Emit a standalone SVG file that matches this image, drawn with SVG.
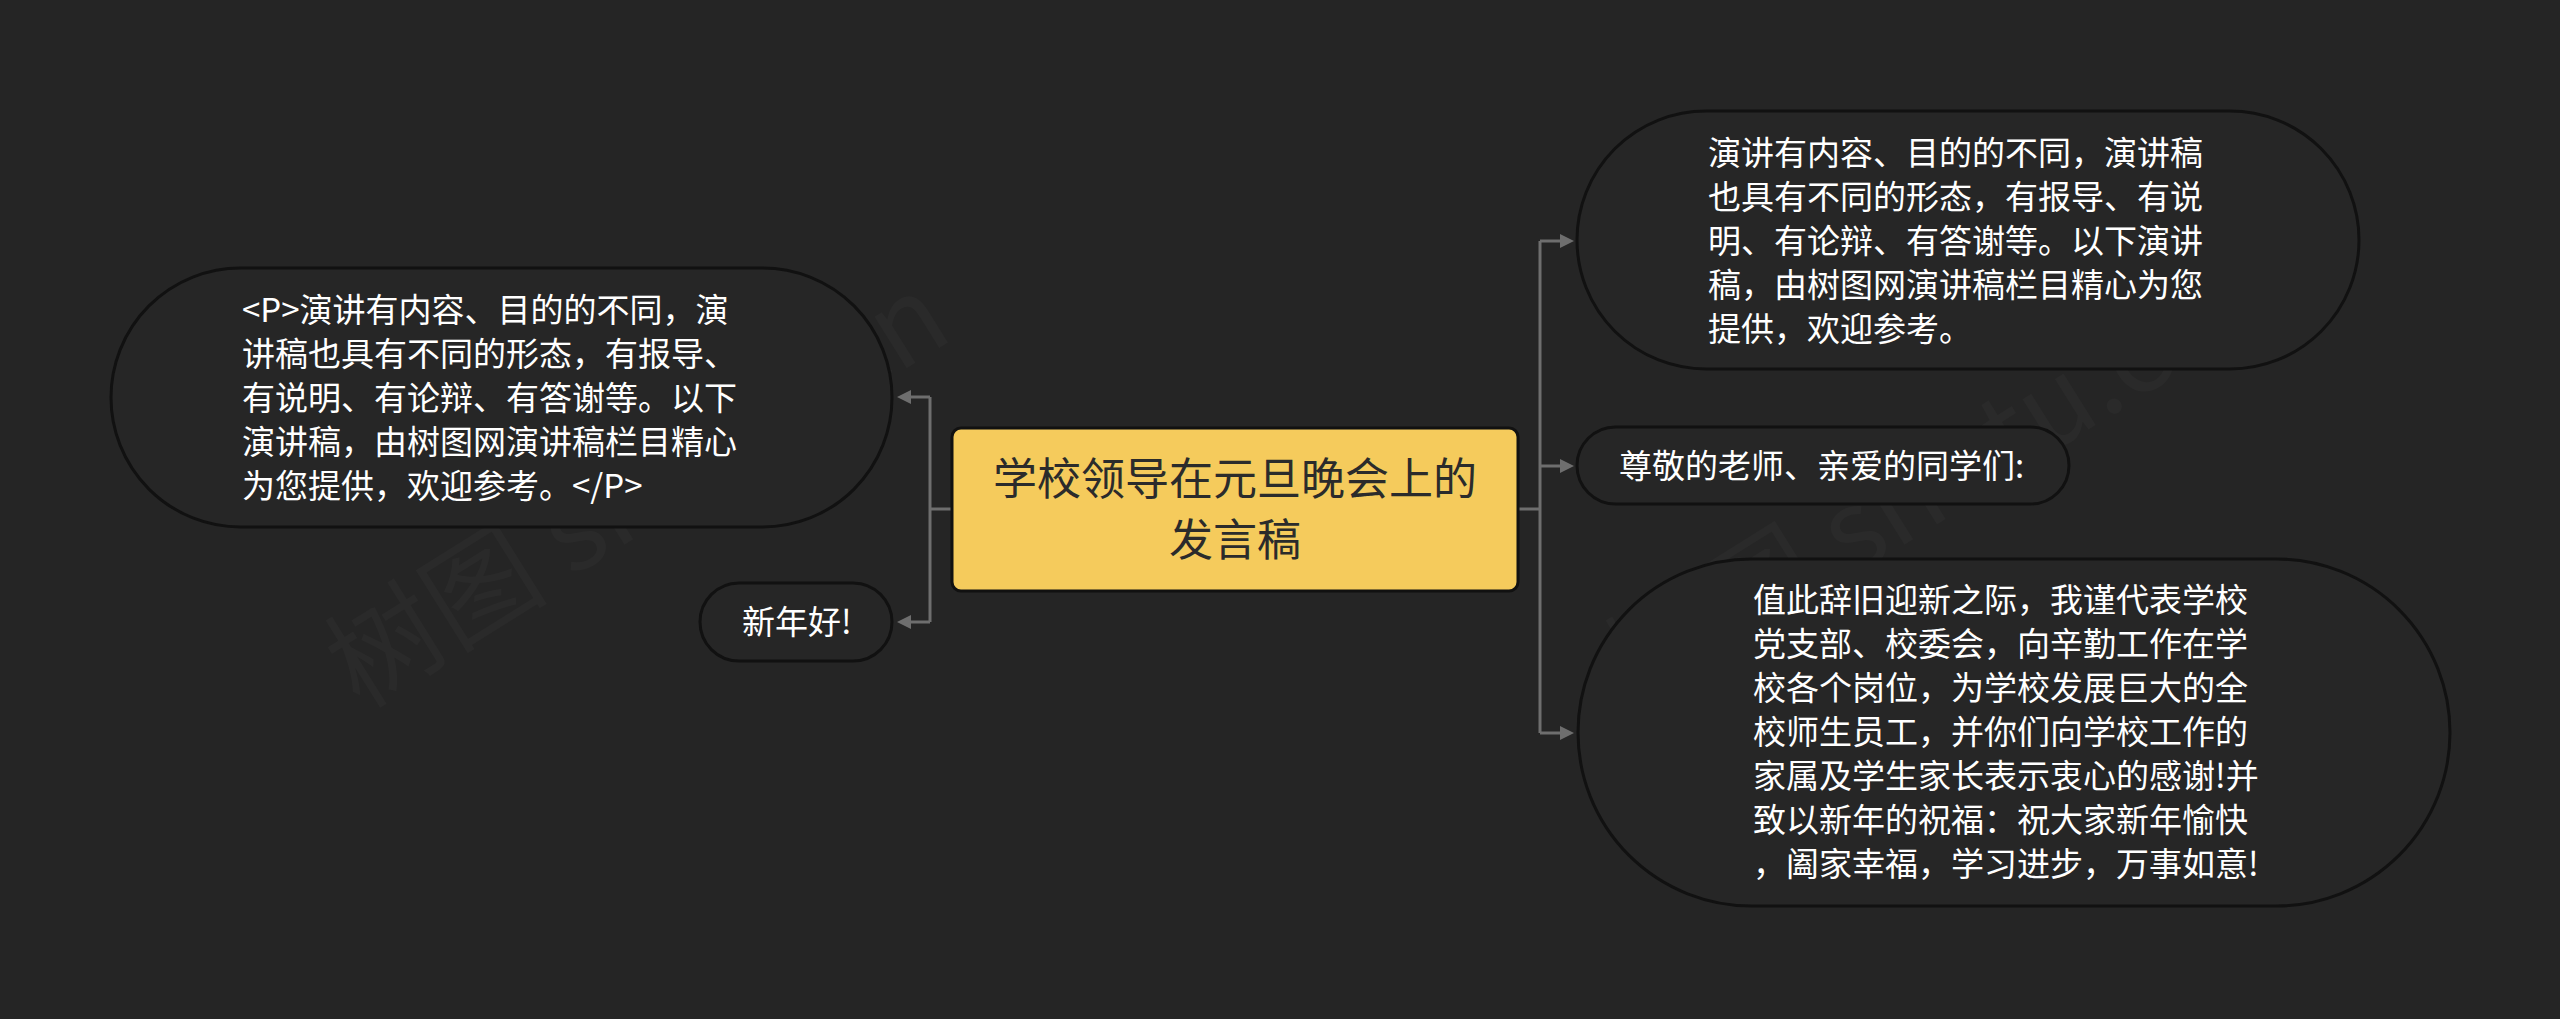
<svg xmlns="http://www.w3.org/2000/svg" width="2560" height="1019" viewBox="0 0 2560 1019">
<defs>
<style>
.bg{fill:#252525}
.node{fill:#262626;stroke:#111111;stroke-width:3}
.root{fill:#f5cb5c;stroke:#111111;stroke-width:3}
.t{font-family:"Noto Sans CJK SC","Noto Sans",sans-serif;font-size:33px;fill:#ffffff}
.rt{font-family:"Noto Sans CJK SC","Noto Sans",sans-serif;font-size:44px;fill:#2b2b2b;text-anchor:middle}
.wm{font-family:"Noto Sans CJK SC","Liberation Sans",sans-serif;font-size:112px;fill:#ffffff;fill-opacity:0.025}
.c{fill:none;stroke:#6e6e6e;stroke-width:3}
.ah{fill:#6e6e6e}
</style>
</defs>
<rect class="bg" x="0" y="0" width="2560" height="1019"/>
<g id="watermark">
<text class="wm" transform="translate(360 710) rotate(-32)">树图 shutu.cn</text>
<text class="wm" transform="translate(1640 710) rotate(-32)">树图 shutu.cn</text>
</g>
<g id="connectors">
<path class="c" d="M952 509 H930 M930 397 V622 M910 397 H930 M910 622 H930"/>
<polygon class="ah" points="897,397 911,390 911,404"/>
<polygon class="ah" points="897,622 911,615 911,629"/>
<path class="c" d="M1518 509 H1540 M1540 241 V733 M1540 241 H1561 M1540 466 H1561 M1540 733 H1561"/>
<polygon class="ah" points="1574,241 1560,234 1560,248"/>
<polygon class="ah" points="1574,466 1560,459 1560,473"/>
<polygon class="ah" points="1574,733 1560,726 1560,740"/>
</g>
<g id="root">
<rect class="root" x="952" y="428" width="566" height="163" rx="9"/>
<text class="rt" x="1235" y="495">学校领导在元旦晚会上的</text>
<text class="rt" x="1235" y="556">发言稿</text>
</g>
<g id="left1">
<rect class="node" x="111" y="268" width="781" height="259" rx="129.5" ry="129.5"/>
<text class="t" x="242" y="322">&lt;P&gt;演讲有内容、目的的不同，演</text>
<text class="t" x="242" y="366">讲稿也具有不同的形态，有报导、</text>
<text class="t" x="242" y="410">有说明、有论辩、有答谢等。以下</text>
<text class="t" x="242" y="454">演讲稿，由树图网演讲稿栏目精心</text>
<text class="t" x="242" y="498">为您提供，欢迎参考。&lt;/P&gt;</text>
</g>
<g id="left2">
<rect class="node" x="700" y="583" width="192" height="78" rx="39" ry="39"/>
<text class="t" x="742" y="634">新年好!</text>
</g>
<g id="right1">
<rect class="node" x="1577" y="111" width="782" height="258" rx="129" ry="129"/>
<text class="t" x="1708" y="165">演讲有内容、目的的不同，演讲稿</text>
<text class="t" x="1708" y="209">也具有不同的形态，有报导、有说</text>
<text class="t" x="1708" y="253">明、有论辩、有答谢等。以下演讲</text>
<text class="t" x="1708" y="297">稿，由树图网演讲稿栏目精心为您</text>
<text class="t" x="1708" y="341">提供，欢迎参考。</text>
</g>
<g id="right2">
<rect class="node" x="1577" y="427" width="492" height="77" rx="38.5" ry="38.5"/>
<text class="t" x="1619" y="478">尊敬的老师、亲爱的同学们:</text>
</g>
<g id="right3">
<rect class="node" x="1578" y="559" width="872" height="347" rx="173.5" ry="173.5"/>
<text class="t" x="1753" y="612">值此辞旧迎新之际，我谨代表学校</text>
<text class="t" x="1753" y="656">党支部、校委会，向辛勤工作在学</text>
<text class="t" x="1753" y="700">校各个岗位，为学校发展巨大的全</text>
<text class="t" x="1753" y="744">校师生员工，并你们向学校工作的</text>
<text class="t" x="1753" y="788">家属及学生家长表示衷心的感谢!并</text>
<text class="t" x="1753" y="832">致以新年的祝福：祝大家新年愉快</text>
<text class="t" x="1753" y="876">，阖家幸福，学习进步，万事如意!</text>
</g>
</svg>
